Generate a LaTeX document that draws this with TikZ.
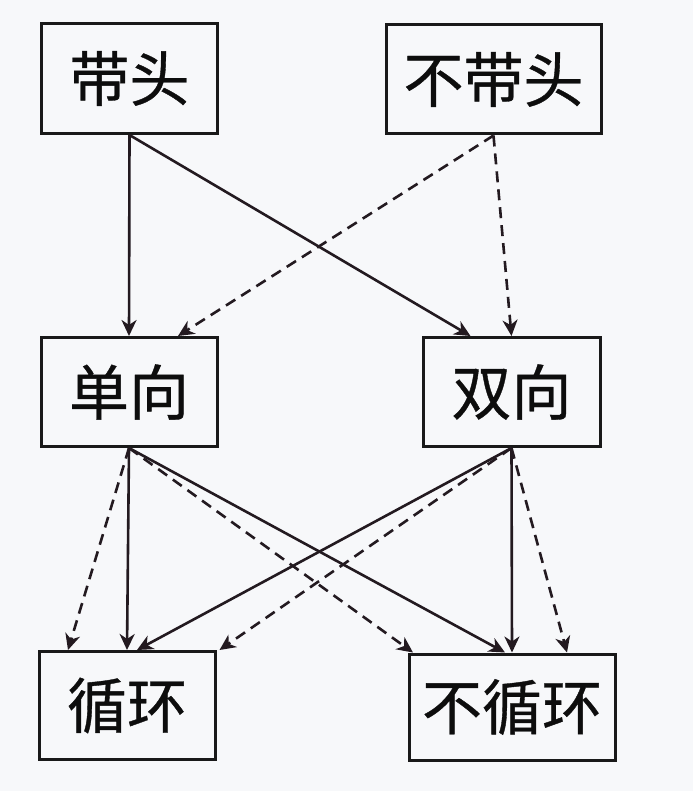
\documentclass[tikz,border=0pt]{standalone}
\usepackage{fontspec}
\newfontfamily\cjk[FakeBold=0.6]{Noto Sans CJK SC}
\usetikzlibrary{arrows.meta}
\definecolor{bgc}{HTML}{F7F8FA}
\definecolor{linec}{HTML}{231A20}
\tikzset{
  box/.style={draw=black!90, line width=3pt, rectangle, inner sep=0pt, font=\cjk\fontsize{60}{64}\selectfont, text=black!95},
  conn/.style={draw=linec, line width=2.6pt, -{Stealth[length=16pt,width=15pt,inset=5pt]}},
  dconn/.style={conn, dash pattern=on 11pt off 7pt}
}
\begin{document}
\begin{tikzpicture}[x=1pt,y=-1pt]
\fill[bgc] (0,0) rectangle (693,791);
\useasboundingbox (0,0) rectangle (693,791);
\node[box, minimum width=176pt, minimum height=110pt] (dt) at (129.5,78.5) {\raisebox{-3pt}{带头}};
\node[box, minimum width=215pt, minimum height=109pt] (bdt) at (493.5,79.5) {\raisebox{-3pt}{不带头}};
\node[box, minimum width=176pt, minimum height=109pt] (dx) at (129,392) {\raisebox{-3pt}{单向}};
\node[box, minimum width=177pt, minimum height=109pt] (sx) at (511.5,392) {\raisebox{-3pt}{双向}};
\node[box, minimum width=176pt, minimum height=108pt] (xh) at (127,705.5) {\raisebox{-3pt}{循环}};
\node[box, minimum width=206pt, minimum height=106pt] (bxh) at (512,707) {\raisebox{-3pt}{不循环}};

\draw[conn] (dt.south) -- (dx.north);
\draw[conn] (dt.south) -- ([xshift=-41pt]sx.north);
\draw[dconn] (bdt.south) -- ([xshift=49pt]dx.north);
\draw[dconn] (bdt.south) -- (sx.north);

\draw[dconn] (dx.south) -- ([xshift=-59pt]xh.north);
\draw[conn] (dx.south) -- (xh.north);
\draw[dconn] (dx.south) -- ([xshift=-99pt]bxh.north);
\draw[conn] (dx.south) -- ([xshift=-7pt]bxh.north);

\draw[conn] (sx.south) -- ([xshift=10pt]xh.north);
\draw[dconn] (sx.south) -- ([xshift=3pt]xh.north east);
\draw[conn] (sx.south) -- (bxh.north);
\draw[dconn] (sx.south) -- ([xshift=55pt]bxh.north);
\end{tikzpicture}
\end{document}
